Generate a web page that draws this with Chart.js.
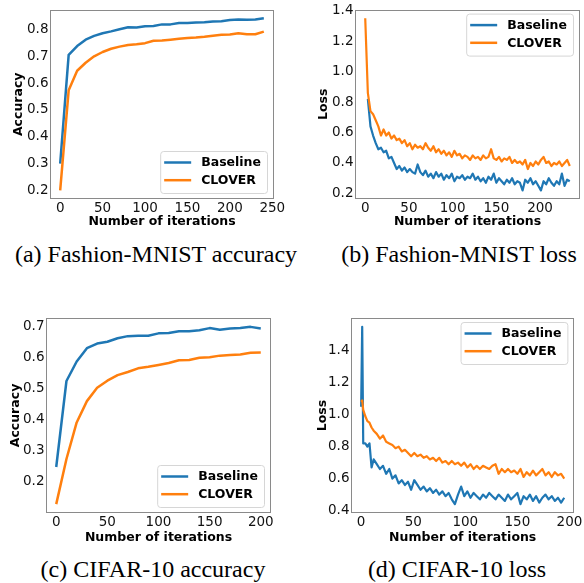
<!DOCTYPE html>
<html>
<head>
<meta charset="utf-8">
<script src="https://cdn.jsdelivr.net/npm/chart.js@4.4.1/dist/chart.umd.min.js"></script>
<style>
  body { margin: 0; background: #fff; }
  #page { position: relative; width: 584px; height: 583px; overflow: hidden; }
  canvas { position: absolute; }
  .cap { position: absolute; width: 300px; text-align: center; font-family: "Liberation Serif", serif; font-size: 24px; line-height: 28px; color: #000; white-space: nowrap; }
</style>
</head>
<body>
<div id="page">
  <canvas id="accA" width="292" height="232" style="left:0;top:0"></canvas>
  <canvas id="lossB" width="292" height="232" style="left:292px;top:0"></canvas>
  <canvas id="accC" width="292" height="248" style="left:0;top:300px"></canvas>
  <canvas id="lossD" width="292" height="248" style="left:292px;top:300px"></canvas>
  <div class="cap" style="left:6px;top:240px">(a) Fashion-MNIST accuracy</div>
  <div class="cap" style="left:309px;top:240px">(b) Fashion-MNIST loss</div>
  <div class="cap" style="left:3px;top:555px">(c) CIFAR-10 accuracy</div>
  <div class="cap" style="left:307px;top:555px">(d) CIFAR-10 loss</div>
</div>
<script>
// (a) Fashion-MNIST accuracy
const itersA = [0, 10, 20, 30, 40, 50, 60, 70, 80, 90, 100, 110, 120, 130, 140, 150, 160, 170, 180, 190, 200, 210, 220, 230, 240];
const baseAccA = [0.30, 0.705, 0.738, 0.762, 0.776, 0.786, 0.793, 0.801, 0.808, 0.807, 0.812, 0.813, 0.819, 0.819, 0.824, 0.824, 0.826, 0.827, 0.830, 0.831, 0.835, 0.837, 0.836, 0.837, 0.842];
const cloverAccA = [0.20, 0.573, 0.646, 0.676, 0.700, 0.716, 0.728, 0.736, 0.742, 0.745, 0.749, 0.758, 0.759, 0.762, 0.765, 0.768, 0.770, 0.773, 0.777, 0.780, 0.781, 0.786, 0.782, 0.782, 0.792];
const xTicksA = [0, 50, 100, 150, 200, 250];
const yTicksA = [0.2, 0.3, 0.4, 0.5, 0.6, 0.7, 0.8];

// (b) Fashion-MNIST loss
const itersB = [0, 3, 6, 9, 12, 15, 18, 21, 24, 27,
  30, 33, 36, 39, 42, 45, 48, 51, 54, 57,
  60, 63, 66, 69, 72, 75, 78, 81, 84, 87,
  90, 93, 96, 99, 102, 105, 108, 111, 114, 117,
  120, 123, 126, 129, 132, 135, 138, 141, 144, 147,
  150, 153, 156, 159, 162, 165, 168, 171, 174, 177,
  180, 183, 186, 189, 192, 195, 198, 201, 204, 207,
  210, 213, 216, 219, 222, 225, 228, 231, 234];
const baseLossB = [null, 0.82, 0.64, 0.58, 0.53, 0.49, 0.50, 0.47, 0.48, 0.43,
  0.44, 0.40, 0.36, 0.38, 0.35, 0.37, 0.34, 0.36, 0.34, 0.33,
  0.39, 0.34, 0.32, 0.35, 0.31, 0.33, 0.30, 0.34, 0.31, 0.33,
  0.29, 0.32, 0.30, 0.33, 0.28, 0.31, 0.30, 0.32, 0.29, 0.31,
  0.30, 0.33, 0.29, 0.31, 0.28, 0.30, 0.27, 0.31, 0.29, 0.33,
  0.27, 0.30, 0.28, 0.26, 0.29, 0.27, 0.30, 0.26, 0.28, 0.27,
  0.22, 0.29, 0.27, 0.30, 0.26, 0.28, 0.25, 0.22, 0.28, 0.26,
  0.30, 0.27, 0.25, 0.28, 0.26, 0.33, 0.25, 0.29, 0.28];
const cloverLossB = [1.35, 0.86, 0.74, 0.72, 0.68, 0.64, 0.58, 0.62, 0.58, 0.60,
  0.56, 0.58, 0.55, 0.56, 0.53, 0.55, 0.51, 0.53, 0.49, 0.52,
  0.50, 0.51, 0.49, 0.53, 0.50, 0.48, 0.51, 0.47, 0.49, 0.46,
  0.48, 0.45, 0.47, 0.44, 0.48, 0.45, 0.46, 0.43, 0.45, 0.44,
  0.42, 0.45, 0.43, 0.44, 0.42, 0.45, 0.43, 0.44, 0.49, 0.43,
  0.42, 0.44, 0.41, 0.43, 0.42, 0.44, 0.40, 0.42, 0.40, 0.41,
  0.39, 0.42, 0.36, 0.40, 0.38, 0.41, 0.39, 0.42, 0.44, 0.40,
  0.41, 0.38, 0.40, 0.39, 0.41, 0.38, 0.40, 0.42, 0.38];
const xTicksB = [0, 50, 100, 150, 200];
const yTicksB = [0.2, 0.4, 0.6, 0.8, 1.0, 1.2, 1.4];

// (c) CIFAR-10 accuracy
const itersC = [0, 10, 20, 30, 40, 50, 60, 70, 80, 90, 100, 110, 120, 130, 140, 150, 160, 170, 180, 190, 200];
const baseAccC = [0.246, 0.524, 0.587, 0.630, 0.645, 0.651, 0.662, 0.669, 0.670, 0.670, 0.678, 0.679, 0.685, 0.685, 0.688, 0.695, 0.690, 0.694, 0.695, 0.699, 0.694];
const cloverAccC = [0.126, 0.272, 0.390, 0.459, 0.502, 0.525, 0.543, 0.553, 0.565, 0.570, 0.576, 0.582, 0.591, 0.592, 0.599, 0.601, 0.606, 0.608, 0.610, 0.615, 0.616];
const xTicksC = [0, 50, 100, 150, 200];
const yTicksC = [0.2, 0.3, 0.4, 0.5, 0.6, 0.7];

// (d) CIFAR-10 loss
const itersD = [0, 1, 2, 4, 6, 8, 10, 12, 15, 18,
  21, 24, 27, 30, 33, 36, 39, 42, 45, 48,
  51, 54, 57, 60, 63, 66, 69, 72, 75, 78,
  81, 84, 87, 90, 93, 96, 99, 102, 105, 108,
  111, 114, 117, 120, 123, 126, 129, 132, 135, 138,
  141, 144, 147, 150, 153, 156, 159, 162, 165, 168,
  171, 174, 177, 180, 183, 186, 189, 192, 195];
const baseLossD = [1.05, 1.55, 0.82, 0.82, 0.80, 0.82, 0.67, 0.72, 0.69, 0.66,
  0.68, 0.63, 0.66, 0.60, 0.62, 0.57, 0.59, 0.56, 0.58, 0.53,
  0.59, 0.56, 0.53, 0.55, 0.52, 0.54, 0.51, 0.53, 0.50, 0.52,
  0.49, 0.51, 0.47, 0.44, 0.50, 0.55, 0.49, 0.52, 0.48, 0.51,
  0.49, 0.47, 0.50, 0.48, 0.51, 0.49, 0.47, 0.50, 0.48, 0.46,
  0.50, 0.47, 0.49, 0.51, 0.44, 0.49, 0.47, 0.50, 0.46, 0.49,
  0.45, 0.48, 0.50, 0.47, 0.49, 0.46, 0.48, 0.45, 0.48];
const cloverLossD = [1.08, 1.09, 1.03, 0.99, 0.96, 0.95, 0.92, 0.90, 0.88, 0.85,
  0.87, 0.83, 0.82, 0.81, 0.79, 0.80, 0.77, 0.78, 0.76, 0.74,
  0.76, 0.74, 0.75, 0.73, 0.74, 0.72, 0.73, 0.71, 0.73, 0.70,
  0.71, 0.69, 0.71, 0.69, 0.70, 0.68, 0.70, 0.67, 0.69, 0.66,
  0.68, 0.66, 0.68, 0.67, 0.66, 0.68, 0.69, 0.63, 0.66, 0.64,
  0.66, 0.64, 0.65, 0.63, 0.66, 0.61, 0.64, 0.62, 0.65, 0.62,
  0.64, 0.66, 0.62, 0.64, 0.61, 0.64, 0.62, 0.63, 0.60];
const xTicksD = [0, 50, 100, 150, 200];
const yTicksD = [0.4, 0.6, 0.8, 1.0, 1.2, 1.4];

const BLUE = "#1f77b4";
const ORANGE = "#ff7f0e";
const FONT = "'DejaVu Sans', sans-serif";

// axes frame like matplotlib spines
const frame = {
  id: "frame",
  afterDatasetsDraw(chart) {
    const a = chart.chartArea;
    const ctx = chart.ctx;
    ctx.save();
    ctx.strokeStyle = "#8a8a8a";
    ctx.lineWidth = 1;
    ctx.strokeRect(Math.round(a.left) + 0.5, Math.round(a.top) + 0.5,
      Math.round(a.right - a.left) - 1, Math.round(a.bottom - a.top) - 1);
    ctx.restore();
  }
};

// legend box in a corner of the plot area
const boxLegend = {
  id: "boxLegend",
  afterDraw(chart, args, opts) {
    const a = chart.chartArea;
    const ctx = chart.ctx;
    const sets = chart.data.datasets;
    ctx.save();
    ctx.font = "bold 12.5px " + FONT;
    const textW = Math.max(...sets.map(d => ctx.measureText(d.label).width));
    const w = 4 + 27 + 10 + textW + 6;
    const h = 42;
    const x = a.right - 7 - w;
    const y = opts.where === "top" ? a.top + 4 : a.bottom - 6 - h;
    ctx.beginPath();
    ctx.roundRect(x + 0.5, y + 0.5, w, h, 3);
    ctx.fillStyle = "rgba(255,255,255,0.85)";
    ctx.fill();
    ctx.strokeStyle = "#d6d6d6";
    ctx.lineWidth = 1;
    ctx.stroke();
    sets.forEach((d, i) => {
      const cy = y + 11.5 + i * 17.7;
      ctx.strokeStyle = d.borderColor;
      ctx.lineWidth = 2.5;
      ctx.beginPath();
      ctx.moveTo(x + 4, cy);
      ctx.lineTo(x + 31, cy);
      ctx.stroke();
      ctx.fillStyle = "#000";
      ctx.textBaseline = "middle";
      ctx.fillText(d.label, x + 41, cy + 0.5);
    });
    ctx.restore();
  }
};

function padRange(values) {
  const v = values.filter(n => n !== null);
  const lo = Math.min(...v);
  const hi = Math.max(...v);
  const m = (hi - lo) * 0.05;
  return [lo - m, hi + m];
}

function toPoints(xs, ys) {
  return xs.map((x, i) => ({ x: x, y: ys[i] }));
}

function makeChart(id, p) {
  const xr = padRange(p.iters);
  const yr = padRange(p.base.concat(p.clover));
  const tickFont = { family: FONT, size: 13.5 };
  const titleFont = { family: FONT, size: 12.5, weight: "bold" };
  new Chart(document.getElementById(id), {
    type: "line",
    data: {
      datasets: [
        { label: "Baseline", data: toPoints(p.iters, p.base), borderColor: BLUE, borderWidth: p.lw, order: 1 },
        { label: "CLOVER", data: toPoints(p.iters, p.clover), borderColor: ORANGE, borderWidth: p.lw, order: 0 }
      ]
    },
    options: {
      responsive: false,
      animation: false,
      devicePixelRatio: 1,
      events: [],
      elements: { point: { radius: 0 }, line: { tension: 0, borderJoinStyle: "round", borderCapStyle: "butt" } },
      layout: { padding: { left: 0, top: p.top, right: p.right, bottom: 0 } },
      plugins: {
        legend: { display: false },
        tooltip: { enabled: false },
        boxLegend: { where: p.legend }
      },
      scales: {
        x: {
          type: "linear",
          min: xr[0],
          max: xr[1],
          afterBuildTicks: s => { s.ticks = p.xTicks.map(v => ({ value: v })); },
          afterFit: s => { s.height = p.xHeight; },
          grid: { display: false, drawTicks: false, tickLength: 0 },
          border: { display: false },
          ticks: { autoSkip: false, maxRotation: 0, padding: 1.5, color: "#111", font: tickFont, callback: v => String(v) },
          title: { display: true, text: "Number of iterations", color: "#000", font: titleFont, padding: { top: 0, bottom: p.xTitlePad } }
        },
        y: {
          type: "linear",
          min: yr[0],
          max: yr[1],
          afterBuildTicks: s => { s.ticks = p.yTicks.map(v => ({ value: v })); },
          afterFit: s => { s.width = p.yWidth; },
          grid: { display: false, drawTicks: false, tickLength: 0 },
          border: { display: false },
          ticks: { autoSkip: false, padding: 1.5, color: "#111", font: tickFont, callback: v => v.toFixed(1) },
          title: { display: true, text: p.yTitle, color: "#000", font: titleFont, padding: { top: p.yTitlePad, bottom: 0 } }
        }
      }
    },
    plugins: [frame, boxLegend]
  });
}

document.addEventListener("DOMContentLoaded", () => {
  makeChart("accA", {
    iters: itersA, base: baseAccA, clover: cloverAccA, xTicks: xTicksA, yTicks: yTicksA,
    yTitle: "Accuracy", legend: "bottom", lw: 2.5,
    top: 3, right: 18, yWidth: 50, xHeight: 33, xTitlePad: 2.5, yTitlePad: 11.5
  });
  makeChart("lossB", {
    iters: itersB, base: baseLossB, clover: cloverLossB, xTicks: xTicksB, yTicks: yTicksB,
    yTitle: "Loss", legend: "top", lw: 2.2,
    top: 3, right: 4, yWidth: 63, xHeight: 33, xTitlePad: 2.5, yTitlePad: 24.5
  });
  makeChart("accC", {
    iters: itersC, base: baseAccC, clover: cloverAccC, xTicks: xTicksC, yTicks: yTicksC,
    yTitle: "Accuracy", legend: "bottom", lw: 2.5,
    top: 18, right: 21, yWidth: 46, xHeight: 35, xTitlePad: 3, yTitlePad: 8.5
  });
  makeChart("lossD", {
    iters: itersD, base: baseLossD, clover: cloverLossD, xTicks: xTicksD, yTicks: yTicksD,
    yTitle: "Loss", legend: "top", lw: 2.2,
    top: 18, right: 8, yWidth: 59, xHeight: 35, xTitlePad: 3, yTitlePad: 23.5
  });
});
</script>
</body>
</html>
